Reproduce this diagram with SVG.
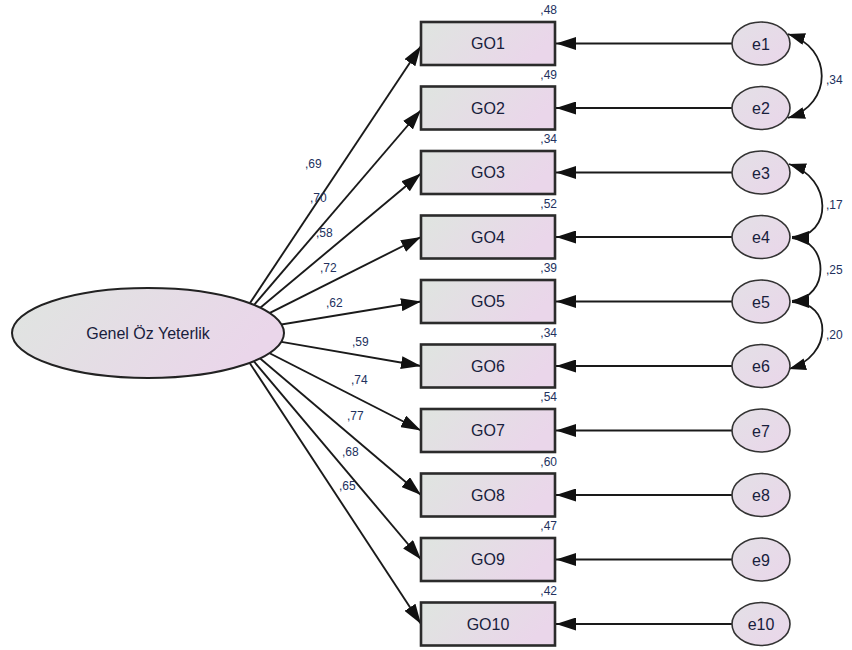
<svg xmlns="http://www.w3.org/2000/svg" width="852" height="650" viewBox="0 0 852 650">
<style>
.box{stroke:#2b2b2b;stroke-width:2.6;fill:url(#g)}
.lat{stroke:#222;stroke-width:2;fill:url(#g)}
.err{stroke:#333;stroke-width:1.6;fill:url(#ge)}
.path{stroke:#1a1a1a;stroke-width:1.9;fill:none;marker-end:url(#ah)}
.cov{stroke:#1a1a1a;stroke-width:1.8;fill:none;marker-start:url(#ch);marker-end:url(#ch)}
.t{font-family:"Liberation Sans",Arial,sans-serif;font-size:16px;fill:#18203c;text-anchor:middle}
.n{font-family:"Liberation Sans",Arial,sans-serif;font-size:12px;fill:#22315e}
.r{text-anchor:end}
</style>
<defs>
<linearGradient id="g" x1="0" y1="0" x2="1" y2="0.3">
<stop offset="0" stop-color="#dfe5e0"/>
<stop offset="1" stop-color="#ead6ea"/>
</linearGradient>
<linearGradient id="ge" x1="0" y1="0" x2="1" y2="1">
<stop offset="0" stop-color="#e3e0e6"/>
<stop offset="1" stop-color="#ead6ea"/>
</linearGradient>
<marker id="ah" markerUnits="userSpaceOnUse" markerWidth="20" markerHeight="13" viewBox="0 0 20 13" refX="20" refY="6.5" orient="auto">
<path d="M0,0 L20,6.5 L0,13 z" fill="#111"/>
</marker>
<marker id="ch" markerUnits="userSpaceOnUse" markerWidth="17" markerHeight="12" viewBox="0 0 17 12" refX="17" refY="6" orient="auto-start-reverse">
<path d="M0,0 L17,6 L0,12 z" fill="#111"/>
</marker>
</defs>

<g id="connectors">
<line class="path" x1="230" y1="333" x2="421" y2="46"/>
<line class="path" x1="230" y1="333" x2="421" y2="110"/>
<line class="path" x1="230" y1="333" x2="421" y2="173.5"/>
<line class="path" x1="230" y1="333" x2="421" y2="237"/>
<line class="path" x1="230" y1="333" x2="421" y2="301.5"/>
<line class="path" x1="230" y1="333" x2="421" y2="366"/>
<line class="path" x1="230" y1="333" x2="421" y2="430.5"/>
<line class="path" x1="230" y1="333" x2="421" y2="495"/>
<line class="path" x1="230" y1="333" x2="421" y2="559.5"/>
<line class="path" x1="230" y1="333" x2="421" y2="624"/>
<line class="path" x1="732" y1="43.5" x2="556" y2="43.5"/>
<line class="path" x1="732" y1="108" x2="556" y2="108"/>
<line class="path" x1="732" y1="172.5" x2="556" y2="172.5"/>
<line class="path" x1="732" y1="237" x2="556" y2="237"/>
<line class="path" x1="732" y1="301.5" x2="556" y2="301.5"/>
<line class="path" x1="732" y1="366" x2="556" y2="366"/>
<line class="path" x1="732" y1="430.5" x2="556" y2="430.5"/>
<line class="path" x1="732" y1="495" x2="556" y2="495"/>
<line class="path" x1="732" y1="559.5" x2="556" y2="559.5"/>
<line class="path" x1="732" y1="624" x2="556" y2="624"/>
<path class="cov" d="M788,34 C833,48 833,104 788,118"/>
<path class="cov" d="M789,164 C833,178 833,237 792,237"/>
<path class="cov" d="M792,238 C830,240 830,298 792,301"/>
<path class="cov" d="M792,302 C833,302 833,356 789,369"/>
<text class="n" x="305" y="168">,69</text>
<text class="n" x="310" y="202">,70</text>
<text class="n" x="316" y="237">,58</text>
<text class="n" x="320" y="272">,72</text>
<text class="n" x="326" y="307">,62</text>
<text class="n" x="352" y="346">,59</text>
<text class="n" x="351" y="384">,74</text>
<text class="n" x="347" y="420">,77</text>
<text class="n" x="342" y="456">,68</text>
<text class="n" x="339" y="490">,65</text>
<text class="n" x="826" y="84">,34</text>
<text class="n" x="826" y="209">,17</text>
<text class="n" x="826" y="274">,25</text>
<text class="n" x="826" y="339">,20</text>
</g>

<g id="F1">
<ellipse class="lat" cx="148" cy="333" rx="136" ry="45"/>
<text class="t" x="148" y="339">Genel Öz Yeterlik</text>
</g>

<g id="GO1"><rect class="box" x="421" y="22" width="134" height="43"/><text class="t" x="488" y="49">GO1</text><text class="n r" x="557" y="14">,48</text></g>
<g id="GO2"><rect class="box" x="421" y="86.5" width="134" height="43"/><text class="t" x="488" y="113.5">GO2</text><text class="n r" x="557" y="78.5">,49</text></g>
<g id="GO3"><rect class="box" x="421" y="151" width="134" height="43"/><text class="t" x="488" y="178">GO3</text><text class="n r" x="557" y="143">,34</text></g>
<g id="GO4"><rect class="box" x="421" y="215.5" width="134" height="43"/><text class="t" x="488" y="242.5">GO4</text><text class="n r" x="557" y="207.5">,52</text></g>
<g id="GO5"><rect class="box" x="421" y="280" width="134" height="43"/><text class="t" x="488" y="307">GO5</text><text class="n r" x="557" y="272">,39</text></g>
<g id="GO6"><rect class="box" x="421" y="344.5" width="134" height="43"/><text class="t" x="488" y="371.5">GO6</text><text class="n r" x="557" y="336.5">,34</text></g>
<g id="GO7"><rect class="box" x="421" y="409" width="134" height="43"/><text class="t" x="488" y="436">GO7</text><text class="n r" x="557" y="401">,54</text></g>
<g id="GO8"><rect class="box" x="421" y="473.5" width="134" height="43"/><text class="t" x="488" y="500.5">GO8</text><text class="n r" x="557" y="465.5">,60</text></g>
<g id="GO9"><rect class="box" x="421" y="538" width="134" height="43"/><text class="t" x="488" y="565">GO9</text><text class="n r" x="557" y="530">,47</text></g>
<g id="GO10"><rect class="box" x="421" y="602.5" width="134" height="43"/><text class="t" x="488" y="629.5">GO10</text><text class="n r" x="557" y="594.5">,42</text></g>

<g id="e1"><ellipse class="err" cx="761" cy="43.5" rx="29" ry="21.5"/><text class="t" x="761" y="49.5">e1</text></g>
<g id="e2"><ellipse class="err" cx="761" cy="108" rx="29" ry="21.5"/><text class="t" x="761" y="114">e2</text></g>
<g id="e3"><ellipse class="err" cx="761" cy="172.5" rx="29" ry="21.5"/><text class="t" x="761" y="178.5">e3</text></g>
<g id="e4"><ellipse class="err" cx="761" cy="237" rx="29" ry="21.5"/><text class="t" x="761" y="243">e4</text></g>
<g id="e5"><ellipse class="err" cx="761" cy="301.5" rx="29" ry="21.5"/><text class="t" x="761" y="307.5">e5</text></g>
<g id="e6"><ellipse class="err" cx="761" cy="366" rx="29" ry="21.5"/><text class="t" x="761" y="372">e6</text></g>
<g id="e7"><ellipse class="err" cx="761" cy="430.5" rx="29" ry="21.5"/><text class="t" x="761" y="436.5">e7</text></g>
<g id="e8"><ellipse class="err" cx="761" cy="495" rx="29" ry="21.5"/><text class="t" x="761" y="501">e8</text></g>
<g id="e9"><ellipse class="err" cx="761" cy="559.5" rx="29" ry="21.5"/><text class="t" x="761" y="565.5">e9</text></g>
<g id="e10"><ellipse class="err" cx="761" cy="624" rx="29" ry="21.5"/><text class="t" x="761" y="630">e10</text></g>
</svg>
